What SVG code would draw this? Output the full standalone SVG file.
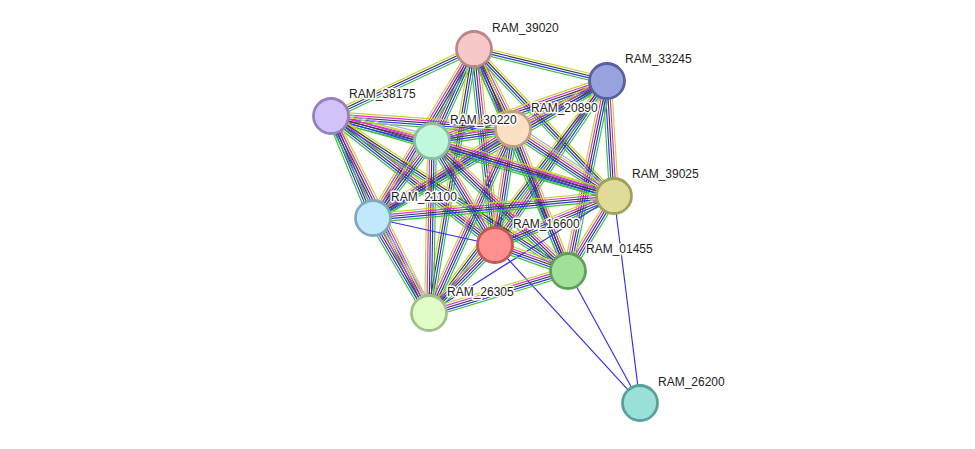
<svg xmlns="http://www.w3.org/2000/svg" xmlns:xlink="http://www.w3.org/1999/xlink" width="975" height="449" viewBox="0 0 975 449">
<style>
.e line{stroke-width:1.15;fill:none}
.g{stroke:#34c434}.r{stroke:#ee2222}.b{stroke:#3030f2}.k{stroke:#3a3a3a}.m{stroke:#dc2cdc}.y{stroke:#c4d42a}.l{stroke:#a8a8f6}
.n circle{stroke-width:2.8}
.n text{font-family:"Liberation Sans",Arial,sans-serif;font-size:12px;fill:#222;stroke:#fff;stroke-width:3;stroke-linejoin:round;paint-order:stroke}
</style>
<defs>
<g id="b1" class="e"><line class="b" x1="0" y1="0" x2="1" y2="0"/></g>
<g id="b4" class="e"><line class="g" x1="0" y1="3.3" x2="1" y2="3.3"/><line class="b" x1="0" y1="1.1" x2="1" y2="1.1"/><line class="k" x1="0" y1="-1.1" x2="1" y2="-1.1"/><line class="y" x1="0" y1="-3.3" x2="1" y2="-3.3"/></g>
<g id="b5" class="e"><line class="g" x1="0" y1="4.4" x2="1" y2="4.4"/><line class="b" x1="0" y1="2.2" x2="1" y2="2.2"/><line class="k" x1="0" y1="0" x2="1" y2="0"/><line class="m" x1="0" y1="-2.2" x2="1" y2="-2.2"/><line class="y" x1="0" y1="-4.4" x2="1" y2="-4.4"/></g>
<g id="b6r" class="e"><line class="g" x1="0" y1="5.5" x2="1" y2="5.5"/><line class="r" x1="0" y1="3.3" x2="1" y2="3.3"/><line class="b" x1="0" y1="1.1" x2="1" y2="1.1"/><line class="k" x1="0" y1="-1.1" x2="1" y2="-1.1"/><line class="m" x1="0" y1="-3.3" x2="1" y2="-3.3"/><line class="y" x1="0" y1="-5.5" x2="1" y2="-5.5"/></g>
<g id="b6l" class="e"><line class="g" x1="0" y1="5.5" x2="1" y2="5.5"/><line class="b" x1="0" y1="3.3" x2="1" y2="3.3"/><line class="k" x1="0" y1="1.1" x2="1" y2="1.1"/><line class="m" x1="0" y1="-1.1" x2="1" y2="-1.1"/><line class="y" x1="0" y1="-3.3" x2="1" y2="-3.3"/><line class="l" x1="0" y1="-5.5" x2="1" y2="-5.5"/></g>
</defs>
<rect width="975" height="449" fill="#fff"/>
<g id="edges">
<use xlink:href="#b4" transform="translate(474 49) rotate(13.53) scale(136.8 1)"/>
<use xlink:href="#b4" transform="translate(331 116) rotate(-25.10) scale(157.9 1)"/>
<use xlink:href="#b6r" transform="translate(474 49) rotate(64.0) scale(89.0 1)"/>
<use xlink:href="#b5" transform="translate(432 141) rotate(-65.46) scale(101.1 1)"/>
<use xlink:href="#b4" transform="translate(474 49) rotate(46.4) scale(203.0 1)"/>
<use xlink:href="#b5" transform="translate(373 218) rotate(-59.14) scale(196.9 1)"/>
<use xlink:href="#b5" transform="translate(474 49) rotate(83.88) scale(197.1 1)"/>
<use xlink:href="#b4" transform="translate(474 49) rotate(67.05) scale(241.1 1)"/>
<use xlink:href="#b4" transform="translate(429 313) rotate(-80.33) scale(267.8 1)"/>
<use xlink:href="#b5" transform="translate(513 129) rotate(-27.05) scale(105.5 1)"/>
<use xlink:href="#b5" transform="translate(432 141) rotate(-18.92) scale(185.0 1)"/>
<use xlink:href="#b5" transform="translate(607 81) rotate(86.52) scale(115.2 1)"/>
<use xlink:href="#b5" transform="translate(373 218) rotate(-30.35) scale(271.2 1)"/>
<use xlink:href="#b5" transform="translate(495 245) rotate(-55.67) scale(198.6 1)"/>
<use xlink:href="#b5" transform="translate(568 271) rotate(-78.40) scale(194.0 1)"/>
<use xlink:href="#b4" transform="translate(429 313) rotate(-52.50) scale(292.4 1)"/>
<use xlink:href="#b5" transform="translate(331 116) rotate(4.09) scale(182.5 1)"/>
<use xlink:href="#b6l" transform="translate(331 116) rotate(13.90) scale(104.0 1)"/>
<use xlink:href="#b5" transform="translate(331 116) rotate(15.78) scale(294.1 1)"/>
<use xlink:href="#b5" transform="translate(331 116) rotate(67.62) scale(110.3 1)"/>
<use xlink:href="#b5" transform="translate(331 116) rotate(38.18) scale(208.7 1)"/>
<use xlink:href="#b5" transform="translate(331 116) rotate(63.55) scale(220.0 1)"/>
<use xlink:href="#b4" transform="translate(331 116) rotate(33.18) scale(283.2 1)"/>
<use xlink:href="#b5" transform="translate(432 141) rotate(-8.43) scale(81.9 1)"/>
<use xlink:href="#b6l" transform="translate(513 129) rotate(33.56) scale(121.2 1)"/>
<use xlink:href="#b5" transform="translate(373 218) rotate(-32.45) scale(165.9 1)"/>
<use xlink:href="#b5" transform="translate(495 245) rotate(-81.18) scale(117.4 1)"/>
<use xlink:href="#b5" transform="translate(513 129) rotate(68.83) scale(152.3 1)"/>
<use xlink:href="#b5" transform="translate(429 313) rotate(-65.46) scale(202.3 1)"/>
<use xlink:href="#b5" transform="translate(432 141) rotate(16.82) scale(190.1 1)"/>
<use xlink:href="#b5" transform="translate(373 218) rotate(-52.53) scale(97.0 1)"/>
<use xlink:href="#b5" transform="translate(432 141) rotate(58.79) scale(121.6 1)"/>
<use xlink:href="#b5" transform="translate(432 141) rotate(43.71) scale(188.1 1)"/>
<use xlink:href="#b5" transform="translate(429 313) rotate(-89.00) scale(172.0 1)"/>
<use xlink:href="#b5" transform="translate(373 218) rotate(-5.22) scale(242.0 1)"/>
<use xlink:href="#b5" transform="translate(495 245) rotate(-22.38) scale(128.7 1)"/>
<use xlink:href="#b5" transform="translate(568 271) rotate(-58.48) scale(88.0 1)"/>
<use xlink:href="#b1" transform="translate(429 313) rotate(-32.31) scale(218.9 1)"/>
<use xlink:href="#b1" transform="translate(614 196) rotate(82.84) scale(208.6 1)"/>
<use xlink:href="#b1" transform="translate(373 218) rotate(12.48) scale(124.95 1)"/>
<use xlink:href="#b6l" transform="translate(373 218) rotate(59.48) scale(110.3 1)"/>
<use xlink:href="#b5" transform="translate(495 245) rotate(19.61) scale(77.5 1)"/>
<use xlink:href="#b5" transform="translate(429 313) rotate(-45.86) scale(94.8 1)"/>
<use xlink:href="#b1" transform="translate(495 245) rotate(47.46) scale(214.4 1)"/>
<use xlink:href="#b5" transform="translate(429 313) rotate(-16.81) scale(145.2 1)"/>
<use xlink:href="#b1" transform="translate(568 271) rotate(61.39) scale(150.4 1)"/>
</g>
<g id="RAM_39020" class="n"><circle cx="474" cy="49" r="17.5" fill="#f8c8c8" stroke="#bb8888"/></g>
<g id="RAM_33245" class="n"><circle cx="607" cy="81" r="17.5" fill="#98a2de" stroke="#5860a0"/></g>
<g id="RAM_38175" class="n"><circle cx="331" cy="116" r="17.5" fill="#d2c2fa" stroke="#9680c0"/></g>
<g id="RAM_20890" class="n"><circle cx="513" cy="129" r="17.5" fill="#fde0c4" stroke="#bea084"/></g>
<g id="RAM_30220" class="n"><circle cx="432" cy="141" r="17.5" fill="#c0f8da" stroke="#86c0a0"/></g>
<g id="RAM_39025" class="n"><circle cx="614" cy="196" r="17.5" fill="#dedc98" stroke="#a0a058"/></g>
<g id="RAM_21100" class="n"><circle cx="373" cy="218" r="17.5" fill="#c2e8fc" stroke="#80a8c0"/></g>
<g id="RAM_16600" class="n"><circle cx="495" cy="245" r="17.5" fill="#ff9090" stroke="#c05858"/></g>
<g id="RAM_01455" class="n"><circle cx="568" cy="271" r="17.5" fill="#a0e098" stroke="#60a058"/></g>
<g id="RAM_26305" class="n"><circle cx="429" cy="313" r="17.5" fill="#e2fcc8" stroke="#a0c088"/></g>
<g id="RAM_26200" class="n"><circle cx="640" cy="403" r="17.5" fill="#98e0d8" stroke="#58a098"/></g>
<g id="labels" class="n">
<text x="492" y="32">RAM_39020</text>
<text x="625" y="63">RAM_33245</text>
<text x="349" y="98">RAM_38175</text>
<text x="531" y="112">RAM_20890</text>
<text x="450" y="124">RAM_30220</text>
<text x="632" y="178">RAM_39025</text>
<text x="391" y="201">RAM_21100</text>
<text x="513" y="228">RAM_16600</text>
<text x="586" y="253">RAM_01455</text>
<text x="447" y="296">RAM_26305</text>
<text x="658" y="386">RAM_26200</text>
</g>
</svg>
